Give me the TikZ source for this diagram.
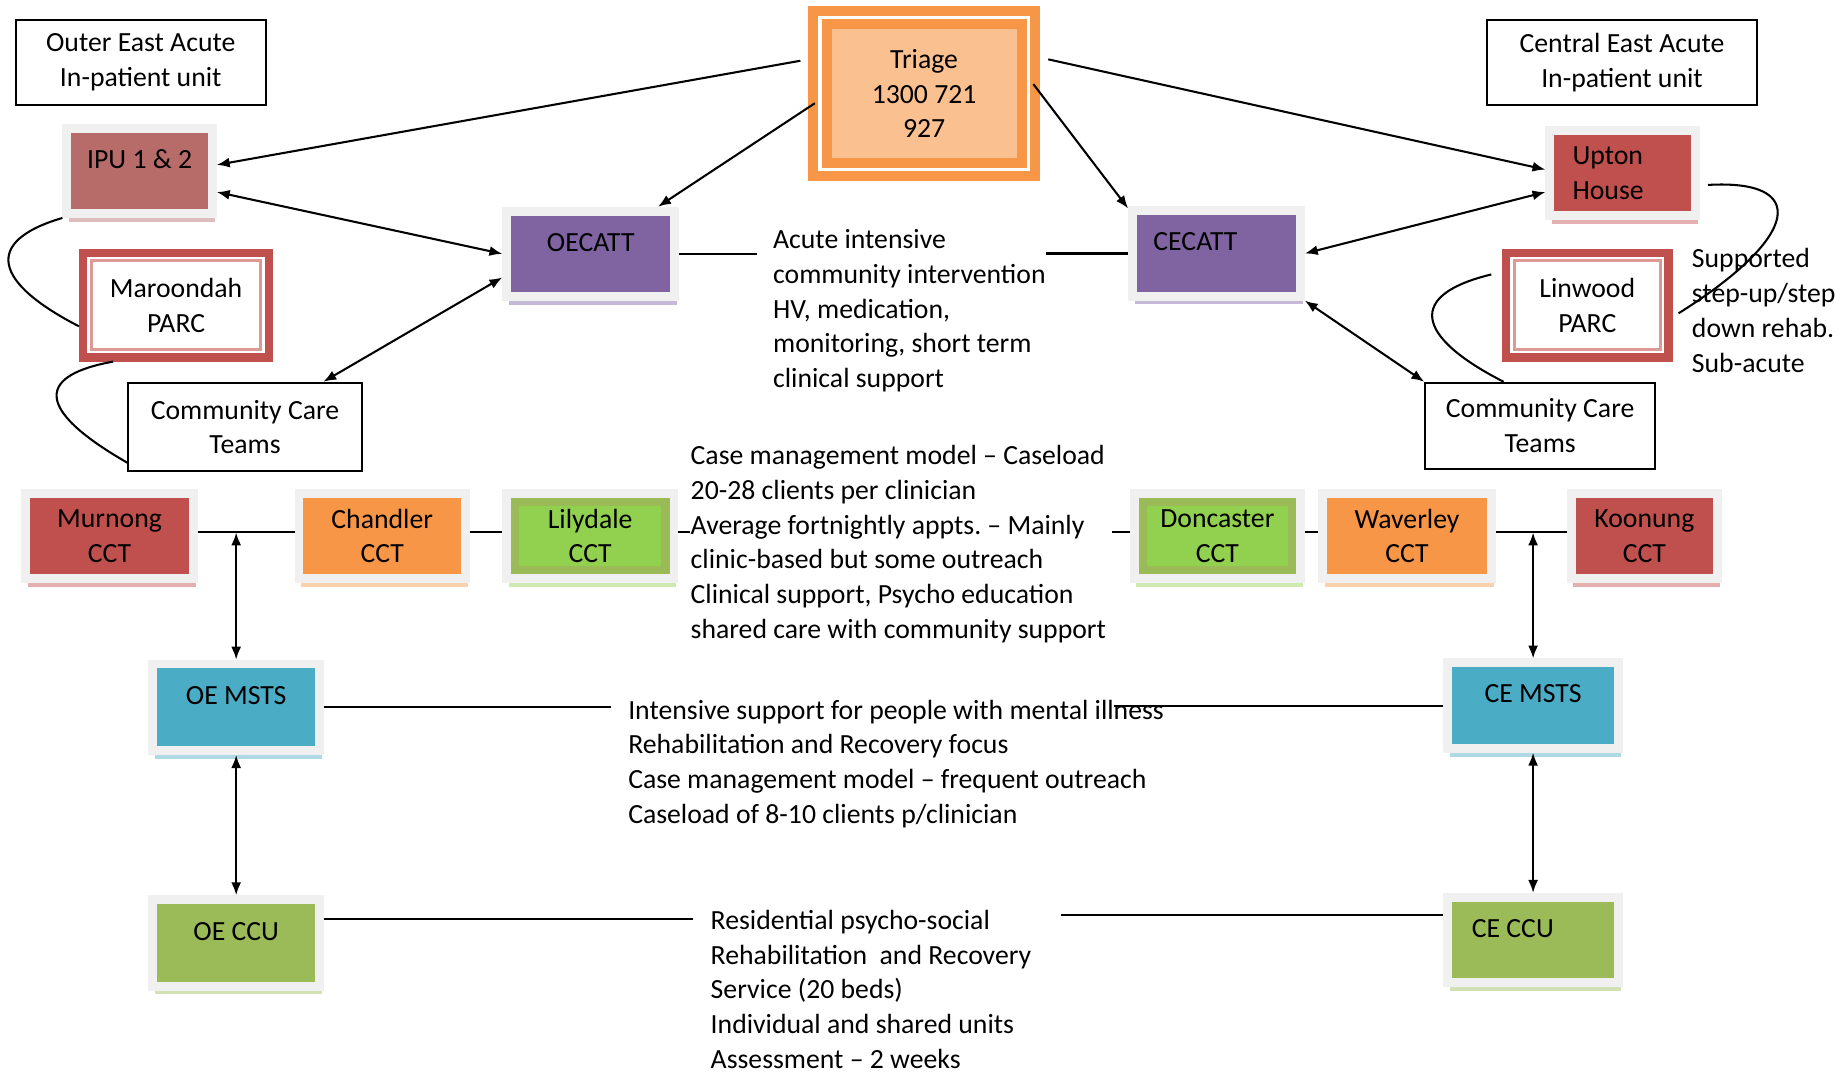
\documentclass[tikz,border=0pt]{standalone}
\usepackage{fontspec}
\setmainfont{Carlito}
\usetikzlibrary{arrows.meta, shadows, calc}
\definecolor{framegray}{RGB}{240,240,240}
\definecolor{cctred}{RGB}{192,80,77}
\definecolor{ipurose}{RGB}{184,108,106}
\definecolor{cctorange}{RGB}{247,150,70}
\definecolor{cctlime}{RGB}{146,208,80}
\definecolor{ccuolive}{RGB}{155,187,89}
\definecolor{cattpurple}{RGB}{128,100,162}
\definecolor{mstsblue}{RGB}{75,172,198}
\definecolor{triagefill}{RGB}{251,192,143}
\definecolor{parcpink}{RGB}{222,152,150}
\newcommand{\diagfont}{\fontsize{13.4}{16.8}\selectfont}

\begin{document}
\begin{tikzpicture}[x=0.02cm, y=-0.02cm, font=\diagfont,
    tile/.style={fill=#1, draw=framegray, line width=0.15cm, minimum width=2.85cm, minimum height=1.45cm, align=center,
        general shadow={fill=#1!45!white, shadow xshift=0.04cm, shadow yshift=-0.14cm}},
    uptext/.style={text depth=0.4cm},
    lefttext/.style={text width=#1, align=flush left},
    infobox/.style={draw=black, line width=0.035cm, fill=white, align=center},
    parc/.style={draw=cctred, line width=0.14cm, fill=white, align=center, minimum height=1.78cm},
    triagebox/.style={draw=cctorange, line width=0.17cm, double=white, double distance=0.06cm, fill=triagefill, align=center},
    note/.style={align=left, inner sep=0pt, anchor=base west},
    rule/.style={line width=0.035cm},
    link/.style={rule, -{Latex[length=0.22cm, width=0.17cm]}},
    dlink/.style={rule, {Latex[length=0.22cm, width=0.17cm]}-{Latex[length=0.22cm, width=0.17cm]}}]
    \useasboundingbox (0,0) rectangle (1568,913);

    % --- Acute units and triage ---
    \node[infobox, minimum width=4.24cm, minimum height=1.44cm] (oeacute) at (119.5,53) {Outer East Acute\\In-patient unit};
    \node[infobox, minimum width=4.58cm, minimum height=1.44cm] (ceacute) at (1377,53) {Central East Acute\\In-patient unit};
    \node[triagebox, minimum width=3.54cm, minimum height=2.58cm] (triage) at (784.5,79.5) {Triage\\1300 721\\927};

    \node[tile=ipurose, uptext, minimum width=2.47cm] (ipu) at (118.5,145) {IPU 1 \& 2};
    \node[tile=cctred, lefttext=1.70cm, minimum width=2.47cm] (upton) at (1377.5,147) {Upton\\House};
    \node[tile=cattpurple, uptext] (oecatt) at (501.5,215.5) {OECATT};
    \node[tile=cattpurple, uptext, lefttext=2.14cm] (cecatt) at (1032.7,215.2) {CECATT};

    \node[parc, minimum width=3.16cm] (maroondah) at (149.5,259) {Maroondah\\PARC};
    \node[parc, minimum width=2.76cm] (linwood) at (1347.5,259) {Linwood\\PARC};
    \node[infobox, minimum width=3.96cm, minimum height=1.5cm] (cctl) at (208,362.5) {Community Care\\Teams};
    \node[infobox, minimum width=3.9cm, minimum height=1.46cm] (cctr) at (1307.5,361.5) {Community Care\\Teams};

    % --- Continuing care teams ---
    \node[tile=cctred] (murnong) at (93,455) {Murnong\\CCT};
    \node[tile=cctorange, minimum width=2.83cm] (chandler) at (324.5,455) {Chandler\\CCT};
    \node[tile=cctlime] (lilydale) at (501,455) {Lilydale\\CCT};
    \node[tile=cctlime, minimum width=2.83cm] (doncaster) at (1033.5,455) {Doncaster\\CCT};
    \node[tile=cctorange, minimum width=2.87cm] (waverley) at (1194.5,455) {Waverley\\CCT};
    \node[tile=cctred, minimum width=2.49cm] (koonung) at (1396,455) {Koonung\\CCT};

    % --- MSTS and CCU ---
    \node[tile=mstsblue, uptext, minimum width=2.83cm, minimum height=1.47cm] (oemsts) at (200.5,600.5) {OE MSTS};
    \node[tile=mstsblue, uptext, minimum width=2.91cm] (cemsts) at (1301.5,599) {CE MSTS};
    \node[tile=ccuolive, uptext, minimum width=2.83cm, minimum height=1.47cm] (oeccu) at (200.5,800.5) {OE CCU};
    \node[tile=ccuolive, uptext, lefttext=2.08cm, minimum width=2.91cm] (ceccu) at (1301.5,798) {CE CCU};

    % inner lines of the framed boxes
    \foreach \n in {maroondah, linwood}
        \draw[parcpink, line width=0.05cm] ([shift={(0.21cm,-0.21cm)}]\n.north west) rectangle ([shift={(-0.21cm,0.21cm)}]\n.south east);
    \foreach \n in {lilydale, doncaster}
        \draw[ccuolive, line width=0.14cm] ([shift={(0.22cm,-0.22cm)}]\n.north west) rectangle ([shift={(-0.22cm,0.22cm)}]\n.south east);

    % --- Descriptions (placed by the baseline of their last line) ---
    \node[note] (acute) at (656,329) {Acute intensive\\community intervention\\HV, medication,\\monitoring, short term\\clinical support};
    \node[note] (casemgmt) at (586,542) {Case management model -- Caseload\\20-28 clients per clinician\\Average fortnightly appts.\ -- Mainly\\clinic-based but some outreach\\Clinical support, Psycho education\\shared care with community support};
    \node[note] (intensive) at (533,699) {Intensive support for people with mental illness\\Rehabilitation and Recovery focus\\Case management model -- frequent outreach\\Caseload of 8-10 clients p/clinician};
    \node[note] (residential) at (603,907) {Residential psycho-social\\Rehabilitation\ \ and Recovery\\Service (20 beds)\\Individual and shared units\\Assessment -- 2 weeks};
    \node[note] (supported) at (1436,316) {Supported\\step-up/step\\down rehab.\\Sub-acute};

    % --- Connectors ---
    \draw[link, shorten <=0.25cm] (triage.162) -- ([yshift=0.1cm]ipu.east);
    \draw[link] (triage.185) -- (oecatt.35);
    \draw[link] (triage.5) -- (cecatt.153);
    \draw[link, shorten <=0.26cm] (triage.19) -- ([yshift=0.06cm]upton.west);
    \draw[dlink] ([yshift=-0.36cm]ipu.east) -- (oecatt.west);
    \draw[dlink] (cctl.30) -- ([yshift=-0.4cm]oecatt.west);
    \draw[dlink] (cecatt.east) -- ([yshift=-0.32cm]upton.west);
    \draw[dlink] (cecatt.south east) -- (cctr.north west);

    \draw[rule] (ipu.south west) .. controls (-15,205) and (-5,240) .. ([yshift=-0.36cm]maroondah.west);
    \draw[rule] ([xshift=0.58cm]maroondah.south west) .. controls (35,318) and (25,345) .. ([yshift=0.16cm]cctl.south west);
    \draw[rule] ([xshift=0.14cm,yshift=-0.2cm]upton.east) .. controls (1535,152) and (1530,200) .. ([xshift=0.1cm,yshift=-0.14cm]linwood.east);
    \draw[rule] ([xshift=-0.18cm,yshift=0.52cm]linwood.west) .. controls (1195,250) and (1200,285) .. ([xshift=-0.62cm]cctr.north);

    \draw[rule, shorten >=0.26cm] (oecatt.east) -- (oecatt.east -| acute.west);
    \draw[rule] (acute.east |- cecatt.west) -- (cecatt.west);

    \draw[rule] ([yshift=0.06cm]murnong.east) -- ([yshift=0.06cm]chandler.west);
    \draw[rule] ([yshift=0.06cm]chandler.east) -- ([yshift=0.06cm]lilydale.west);
    \draw[rule] ([yshift=0.06cm]lilydale.east) -- ([yshift=0.06cm]lilydale.east -| casemgmt.west);
    \draw[rule, shorten <=0.1cm] ([yshift=0.06cm]doncaster.west -| casemgmt.east) -- ([yshift=0.06cm]doncaster.west);
    \draw[rule] ([yshift=0.06cm]doncaster.east) -- ([yshift=0.06cm]waverley.west);
    \draw[rule] ([yshift=0.06cm]waverley.east) -- ([yshift=0.06cm]koonung.west);

    \draw[dlink] ([yshift=0.06cm]oemsts.north |- murnong.east) -- (oemsts.north);
    \draw[dlink] ([yshift=0.06cm]cemsts.north |- waverley.east) -- (cemsts.north);
    \draw[dlink] (oemsts.south) -- (oeccu.north);
    \draw[dlink] (cemsts.south) -- (ceccu.north);

    \draw[rule, shorten >=0.28cm] (oemsts.east) -- (oemsts.east -| intensive.west);
    \draw[rule] ([xshift=-0.86cm]intensive.east |- cemsts.west) -- (cemsts.west);
    \draw[rule, shorten >=0.3cm] ([yshift=0.4cm]oeccu.east) -- ([yshift=0.4cm]oeccu.east -| residential.west);
    \draw[rule, shorten >=0.5cm] ([yshift=0.42cm]ceccu.west) -- ([yshift=0.42cm]ceccu.west -| residential.east);
\end{tikzpicture}
\end{document}
